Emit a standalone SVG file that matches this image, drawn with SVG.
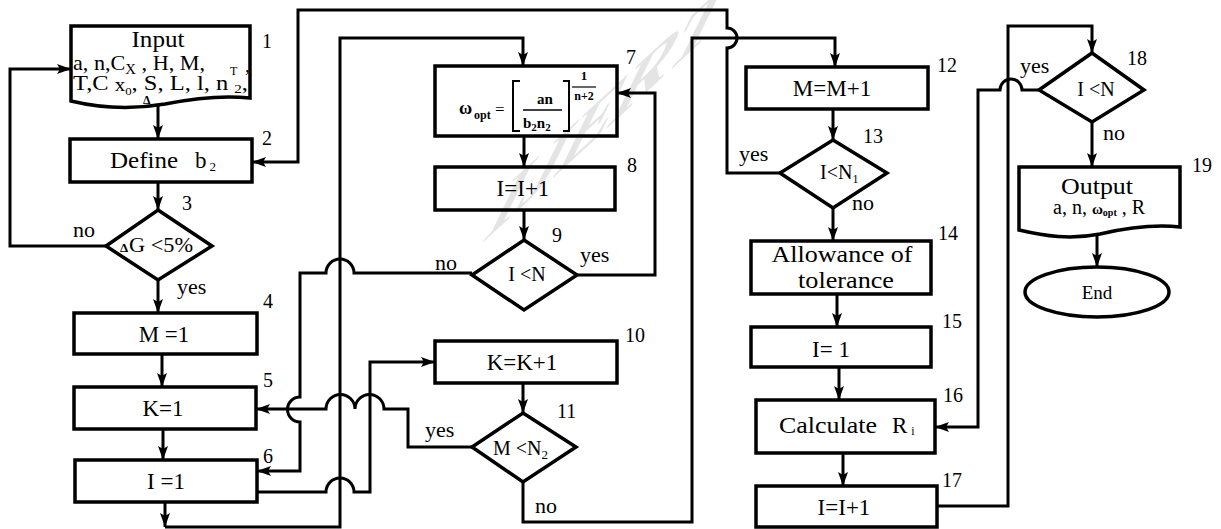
<svg xmlns="http://www.w3.org/2000/svg" width="1221" height="529" viewBox="0 0 1221 529">
  <style>
    .box { fill: #fff; stroke: #000; stroke-width: 3.5; }
    .arr { fill: none; stroke: #000; stroke-width: 3; marker-end: url(#head); }
    text { font-family: "Liberation Serif", "Times New Roman", serif; fill: #000; }
    .lbl { font-size: 23px; text-anchor: middle; }
    .cond { font-size: 20px; text-anchor: middle; }
    .num { font-size: 20px; }
    .yn { font-size: 22px; }
    .f { font-weight: bold; }
  </style>
  <defs>
    <marker id="head" viewBox="0 0 14 10" refX="14" refY="5" markerWidth="14" markerHeight="10" markerUnits="userSpaceOnUse" orient="auto">
      <path d="M0,0 L14,5 L0,10 L3,5 z" fill="#000"/>
    </marker>
  </defs>
  <rect width="1221" height="529" fill="#fff"/>

  <!-- connectors -->
  <g id="connectors">
    <path class="arr" d="M158,104 V139"/>
    <path class="arr" d="M158,182 V210"/>
    <path class="arr" d="M106,246 H10 V69 H71"/>
    <path class="arr" d="M158,280 V313"/>
    <path class="arr" d="M162,354 V387"/>
    <path class="arr" d="M163,429 V460"/>
    <path class="arr" d="M165,502 V527"/>
    <path class="arr" d="M165,527 H340 V38 H523 V66"/>
    <path class="arr" d="M524,136 V167"/>
    <path class="arr" d="M524,210 V240"/>
    <path class="arr" d="M577,275 H655 V93 H617"/>
    <path class="arr" d="M472,273 H354 A14,14 0 0 0 326,273 H300 V397 A12.5,12.5 0 0 0 300,422 V471 H257"/>
    <path class="arr" d="M257,492 H326 A14,14 0 0 1 354,492 H370 V362 H435"/>
    <path class="arr" d="M523,383 V413"/>
    <path class="arr" d="M472,447 H408 V409 H384 A14.5,14.5 0 0 0 355,409 A14.5,14.5 0 0 0 326,409 H256"/>
    <path class="arr" d="M523,482 V522 H692 V38 H835 V67"/>
    <path class="arr" d="M780,173 H727 V48 A10,10 0 0 0 727,28 V10 H298 V162 H252"/>
    <path class="arr" d="M833,109 V140"/>
    <path class="arr" d="M833,208 V241"/>
    <path class="arr" d="M837,294 V327"/>
    <path class="arr" d="M839,367 V400"/>
    <path class="arr" d="M843,453 V486"/>
    <path class="arr" d="M937,506 H1008 V26 H1092 V53"/>
    <path class="arr" d="M1039,90 H1022 A11,11 0 0 0 1000,90 H978 V427 H935"/>
    <path class="arr" d="M1092,122 V167"/>
    <path class="arr" d="M1097,234 V267"/>
  </g>

  <!-- 1: input -->
  <g id="n1">
    <path class="box" d="M71,26 H250 V98 C222,95 195,98 165,104 C130,110 100,108 71,101 Z"/>
    <text class="lbl" x="158" y="47" textLength="53" lengthAdjust="spacingAndGlyphs">Input</text>
    <text x="73" y="70" font-size="21" textLength="132" lengthAdjust="spacingAndGlyphs">a, n,C<tspan font-size="14" dy="4">X</tspan><tspan dy="-4"> , H, M,</tspan></text>
    <text x="230" y="75" font-size="12">T</text>
    <text x="245" y="72" font-size="19">,</text>
    <text x="73" y="90" font-size="21" textLength="175" lengthAdjust="spacingAndGlyphs">T,C <tspan font-size="18" dy="1">x</tspan><tspan font-size="11" dy="4">0</tspan><tspan dy="-5">, S, L, l, n </tspan><tspan font-size="13" dy="3">2</tspan><tspan dy="-3">,</tspan></text>
    <text x="143" y="104" font-size="12" class="f">Δ</text>
    <text class="num" x="262" y="48">1</text>
  </g>

  <!-- 2 -->
  <g id="n2">
    <rect class="box" x="70" y="139" width="182" height="43"/>
    <text x="110" y="168" font-size="23" textLength="68" lengthAdjust="spacingAndGlyphs">Define</text>
    <text x="195" y="168" font-size="23">b<tspan font-size="13" dx="3" dy="3">2</tspan></text>
    <text class="num" x="262" y="145">2</text>
  </g>

  <!-- 3 -->
  <g id="n3">
    <polygon class="box" points="158,210 212,246 158,280 106,246"/>
    <text x="120" y="252" font-size="13" class="f">Δ</text>
    <text x="129" y="252" font-size="20" textLength="64" lengthAdjust="spacingAndGlyphs">G &lt;5%</text>
    <text class="num" x="182" y="210">3</text>
    <text class="yn" x="73" y="237">no</text>
    <text class="yn" x="177" y="294">yes</text>
  </g>

  <!-- 4 -->
  <g id="n4">
    <rect class="box" x="74" y="313" width="183" height="41"/>
    <text class="lbl" x="164" y="342">M =1</text>
    <text class="num" x="263" y="308">4</text>
  </g>

  <!-- 5 -->
  <g id="n5">
    <rect class="box" x="74" y="387" width="182" height="42"/>
    <text class="lbl" x="163" y="416">K=1</text>
    <text class="num" x="263" y="387">5</text>
  </g>

  <!-- 6 -->
  <g id="n6">
    <rect class="box" x="75" y="460" width="182" height="42"/>
    <text class="lbl" x="166" y="489">I =1</text>
    <text class="num" x="263" y="463">6</text>
  </g>

  <!-- 7: optimum formula -->
  <g id="n7">
    <rect class="box" x="435" y="66" width="182" height="70"/>
    <text x="459" y="114" font-size="18" class="f">ω</text>
    <text x="474" y="119" font-size="12" class="f">opt</text>
    <text x="495" y="115" font-size="17">=</text>
    <path d="M520,81 H513 V131 H520 M563,81 H569 V131 H563" fill="none" stroke="#000" stroke-width="2"/>
    <text x="545" y="104" font-size="15" class="f" text-anchor="middle">an</text>
    <line x1="523" y1="110" x2="562" y2="110" stroke="#000" stroke-width="1.5"/>
    <text x="523" y="128" font-size="15" class="f">b<tspan font-size="11" dy="3">2</tspan><tspan dy="-3">n</tspan><tspan font-size="11" dy="3">2</tspan></text>
    <text x="584" y="80" font-size="13" class="f" text-anchor="middle">1</text>
    <line x1="572" y1="87" x2="596" y2="87" stroke="#000" stroke-width="1.2"/>
    <text x="584" y="100" font-size="12" class="f" text-anchor="middle">n+2</text>
    <text class="num" x="626" y="64">7</text>
  </g>

  <!-- 8 -->
  <g id="n8">
    <rect class="box" x="435" y="167" width="180" height="43"/>
    <text class="lbl" x="523" y="196">I=I+1</text>
    <text class="num" x="627" y="172">8</text>
  </g>

  <!-- 9 -->
  <g id="n9">
    <polygon class="box" points="524,240 577,275 524,310 472,275"/>
    <text class="cond" x="527" y="281">I &lt;N</text>
    <text class="num" x="552" y="242">9</text>
    <text class="yn" x="435" y="270">no</text>
    <text class="yn" x="580" y="262">yes</text>
  </g>

  <!-- 10 -->
  <g id="n10">
    <rect class="box" x="435" y="341" width="182" height="42"/>
    <text class="lbl" x="522" y="370">K=K+1</text>
    <text class="num" x="625" y="342">10</text>
  </g>

  <!-- 11 -->
  <g id="n11">
    <polygon class="box" points="523,413 576,447 523,482 472,447"/>
    <text x="493" y="455" font-size="20">M &lt;N<tspan font-size="13" dy="4">2</tspan></text>
    <text class="num" x="557" y="418">11</text>
    <text class="yn" x="425" y="437">yes</text>
    <text class="yn" x="535" y="513">no</text>
  </g>

  <!-- 12 -->
  <g id="n12">
    <rect class="box" x="746" y="67" width="182" height="42"/>
    <text class="lbl" x="832" y="96">M=M+1</text>
    <text class="num" x="937" y="72">12</text>
  </g>

  <!-- 13 -->
  <g id="n13">
    <polygon class="box" points="833,140 887,173 833,208 780,173"/>
    <text x="820" y="179" font-size="20">I&lt;N<tspan font-size="12" dy="4">1</tspan></text>
    <text class="num" x="863" y="143">13</text>
    <text class="yn" x="739" y="161">yes</text>
    <text class="yn" x="852" y="210">no</text>
  </g>

  <!-- 14 -->
  <g id="n14">
    <rect class="box" x="751" y="241" width="180" height="53"/>
    <text class="lbl" x="842" y="262" textLength="141" lengthAdjust="spacingAndGlyphs">Allowance of</text>
    <text class="lbl" x="846" y="288" textLength="96" lengthAdjust="spacingAndGlyphs">tolerance</text>
    <text class="num" x="938" y="240">14</text>
  </g>

  <!-- 15 -->
  <g id="n15">
    <rect class="box" x="751" y="327" width="180" height="40"/>
    <text class="lbl" x="831" y="357">I= 1</text>
    <text class="num" x="942" y="328">15</text>
  </g>

  <!-- 16 -->
  <g id="n16">
    <rect class="box" x="756" y="400" width="179" height="53"/>
    <text x="779" y="433" font-size="23" textLength="98" lengthAdjust="spacingAndGlyphs">Calculate</text>
    <text x="892" y="433" font-size="23">R<tspan font-size="12" dx="4" dy="2">i</tspan></text>
    <text class="num" x="943" y="402">16</text>
  </g>

  <!-- 17 -->
  <g id="n17">
    <rect class="box" x="756" y="486" width="181" height="41"/>
    <text class="lbl" x="844" y="515">I=I+1</text>
    <text class="num" x="942" y="487">17</text>
  </g>

  <!-- 18 -->
  <g id="n18">
    <polygon class="box" points="1092,53 1144,90 1092,122 1039,90"/>
    <text class="cond" x="1096" y="96">I &lt;N</text>
    <text class="num" x="1127" y="65">18</text>
    <text class="yn" x="1020" y="73">yes</text>
    <text class="yn" x="1103" y="140">no</text>
  </g>

  <!-- 19: output -->
  <g id="n19">
    <path class="box" d="M1019,167 H1180 V227 C1152,224 1126,228 1100,234 C1070,240 1045,236 1019,230 Z"/>
    <text class="lbl" x="1097" y="194" textLength="72" lengthAdjust="spacingAndGlyphs">Output</text>
    <text x="1053" y="214" font-size="20">a, n, <tspan font-size="15" class="f">ω</tspan><tspan font-size="10" class="f" dy="2">opt</tspan><tspan dy="-2"> , R</tspan></text>
    <text class="num" x="1192" y="172">19</text>
  </g>

  <!-- end -->
  <g id="end">
    <ellipse class="box" cx="1097" cy="292" rx="72" ry="25"/>
    <text x="1097" y="299" font-size="19" text-anchor="middle">End</text>
  </g>

  <!-- publisher mark -->
  <g id="mark" opacity="0.1">
    <text transform="matrix(0.74,-0.68,-0.44,0.9,480,245)" font-size="108" font-weight="bold" fill="#555">IJERT</text>
  </g>
</svg>
